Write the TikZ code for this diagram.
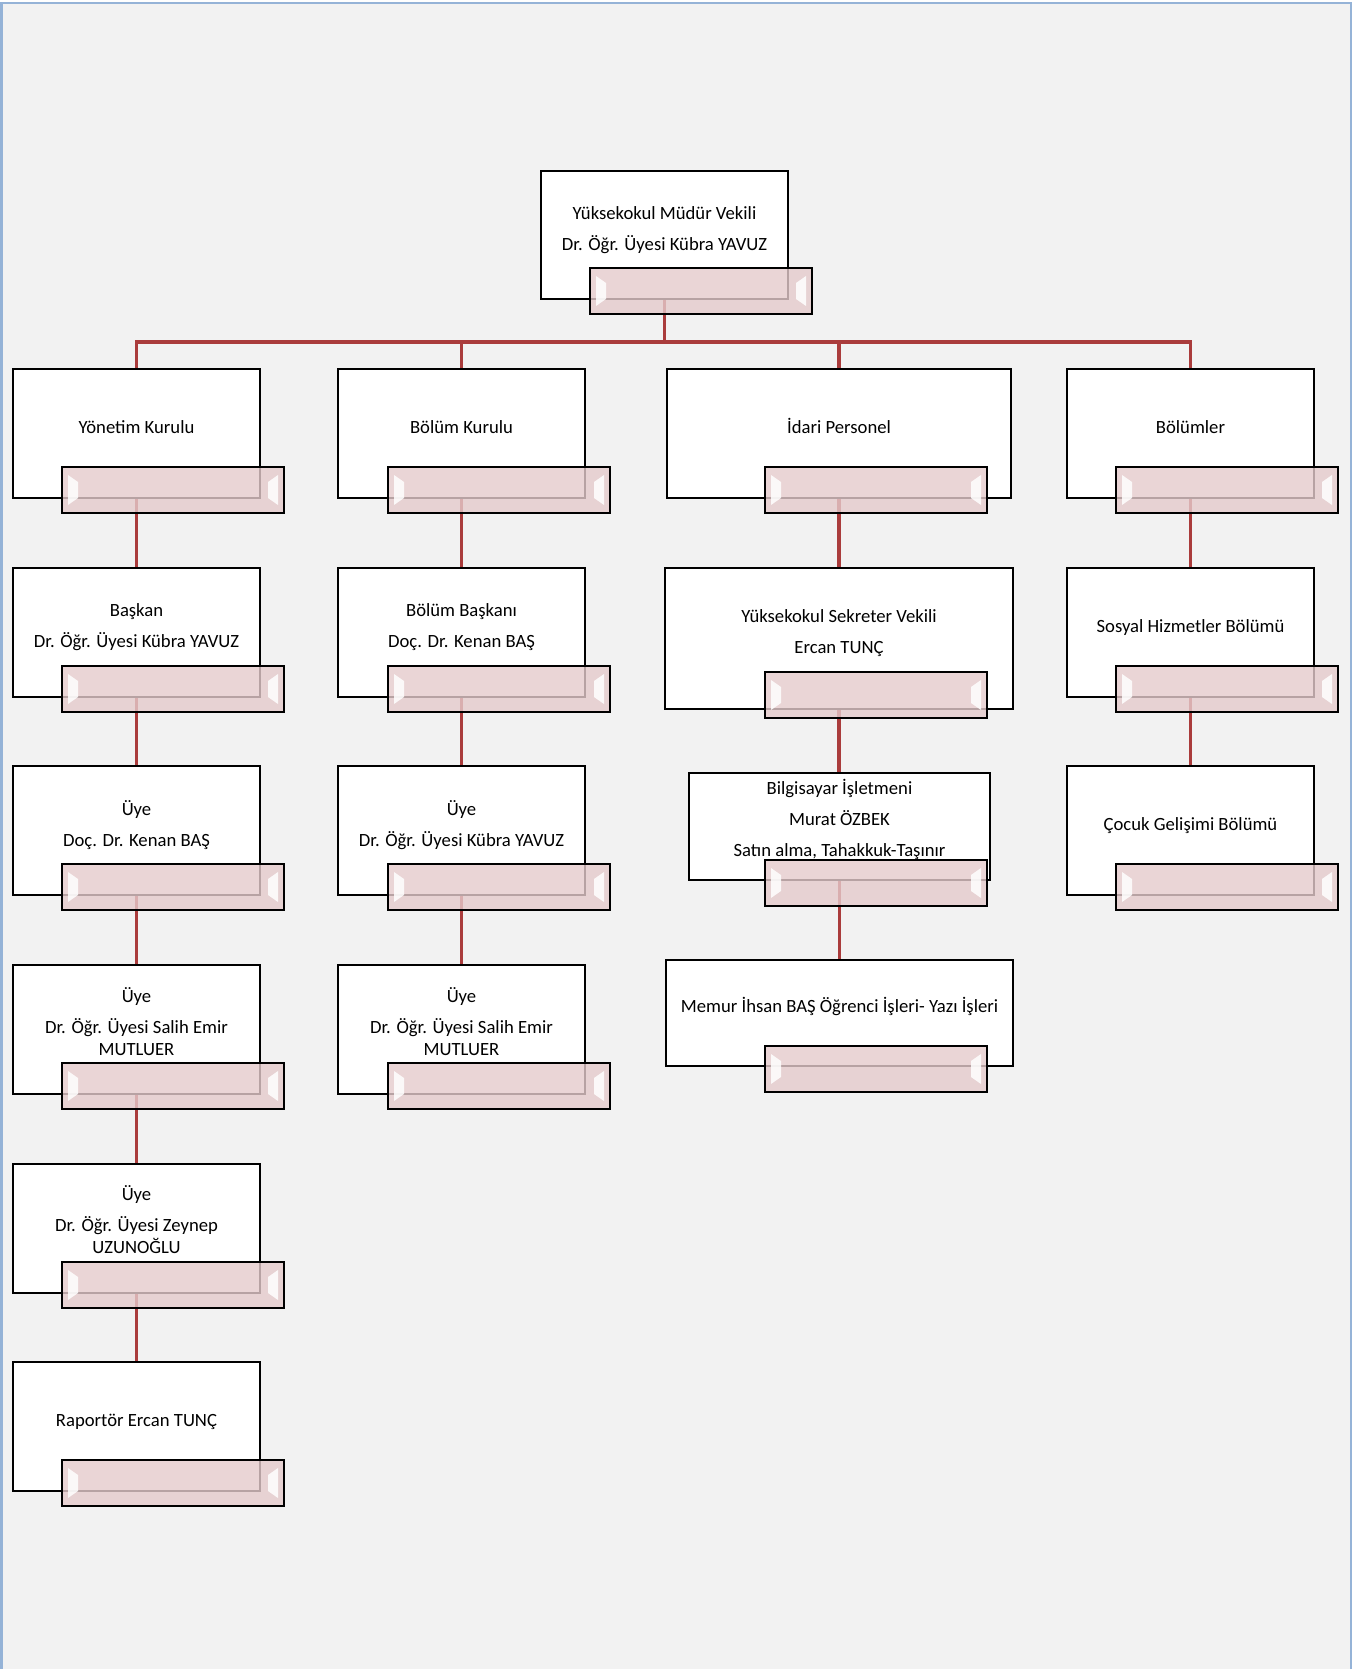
\documentclass[tikz,border=0pt]{standalone}
\usepackage{fontspec}
\setmainfont{Carlito}
\usetikzlibrary{calc}
\pgfdeclarelayer{bg}
\pgfsetlayers{bg,main}
\definecolor{bgray}{RGB}{242,242,242}
\definecolor{frameblue}{RGB}{149,179,215}
\definecolor{linered}{RGB}{170,60,60}
\definecolor{pinkfill}{RGB}{229,203,204}
\newcommand{\gp}{\\[6.75pt]}
\begin{document}
\begin{tikzpicture}[x=0.75pt,y=-0.75pt,
  orgbox/.style 2 args={draw=black, line width=1.2pt, fill=white, anchor=north west,
    inner sep=0pt, outer sep=0pt, minimum width=#1*0.75pt, minimum height=#2*0.75pt},
  pinkbar/.style={draw=black, line width=1.1pt, fill=pinkfill, fill opacity=0.8,
    anchor=north west, inner sep=0pt, outer sep=0pt,
    minimum width=166.5pt, minimum height=34.5pt,
    path picture={
      \fill[white, fill opacity=0.85] ($(path picture bounding box.north west)+(6,8)$)
        -- ++(10,7) -- ++(0,16) -- ++(-10,7) -- cycle;
      \fill[white, fill opacity=0.85] ($(path picture bounding box.north east)+(-6,8)$)
        -- ++(-10,7) -- ++(0,16) -- ++(10,7) -- cycle;
    }},
  txt/.style={font=\fontsize{14}{16.5}\selectfont, align=center, inner sep=0pt, yshift=-2.4pt},
  conn/.style={draw=linered, line width=2.4pt}
]
\useasboundingbox (0,0) rectangle (1362,1669);

% white boxes
\node[orgbox={247}{128}] (m) at (541,171) {};
\node[orgbox={247}{129}] (yk) at (13,369) {};
\node[orgbox={247}{129}] (bk) at (338,369) {};
\node[orgbox={344}{129}] (ip) at (667,369) {};
\node[orgbox={247}{129}] (bl) at (1067,369) {};
\node[orgbox={247}{129}] (bs) at (13,568) {};
\node[orgbox={247}{129}] (bb) at (338,568) {};
\node[orgbox={348}{141}] (sk) at (665,568) {};
\node[orgbox={247}{129}] (sh) at (1067,568) {};
\node[orgbox={247}{129}] (u1) at (13,766) {};
\node[orgbox={247}{129}] (u2) at (338,766) {};
\node[orgbox={301}{107}] (bi) at (689,773) {};
\node[orgbox={247}{129}] (cg) at (1067,766) {};
\node[orgbox={247}{129}] (u3) at (13,965) {};
\node[orgbox={247}{129}] (u4) at (338,965) {};
\node[orgbox={347}{106}] (me) at (666,960) {};
\node[orgbox={247}{129}] (u5) at (13,1164) {};
\node[orgbox={247}{129}] (ra) at (13,1362) {};

% pink bars
\node[pinkbar] (pm) at (590,268) {};
\node[pinkbar] (pyk) at (62,467) {};
\node[pinkbar] (pbk) at (388,467) {};
\node[pinkbar] (pip) at (765,467) {};
\node[pinkbar] (pbl) at (1116,467) {};
\node[pinkbar] (pbs) at (62,666) {};
\node[pinkbar] (pbb) at (388,666) {};
\node[pinkbar] (psk) at (765,672) {};
\node[pinkbar] (psh) at (1116,666) {};
\node[pinkbar] (pu1) at (62,864) {};
\node[pinkbar] (pu2) at (388,864) {};
\node[pinkbar] (pbi) at (765,860) {};
\node[pinkbar] (pcg) at (1116,864) {};
\node[pinkbar] (pu3) at (62,1063) {};
\node[pinkbar] (pu4) at (388,1063) {};
\node[pinkbar] (pme) at (765,1046) {};
\node[pinkbar] (pu5) at (62,1262) {};
\node[pinkbar] (pra) at (62,1460) {};

% texts
\node[txt] (tm) at (664.5,227) {\strut Yüksekokul Müdür Vekili\gp\strut Dr. Öğr. Üyesi Kübra YAVUZ};
\node[txt] (tyk) at (136.5,425.6) {\strut Yönetim Kurulu};
\node[txt] (tbk) at (461.5,425.6) {\strut Bölüm Kurulu};
\node[txt] (tip) at (839,425.6) {\strut İdari Personel};
\node[txt] (tbl) at (1190.5,425.6) {\strut Bölümler};
\node[txt] (tbs) at (136.5,624) {\strut Başkan\gp\strut Dr. Öğr. Üyesi Kübra YAVUZ};
\node[txt] (tbb) at (461.5,624) {\strut Bölüm Başkanı\gp\strut Doç. Dr. Kenan BAŞ};
\node[txt] (tsk) at (839,630.5) {\strut Yüksekokul Sekreter Vekili\gp\strut Ercan TUNÇ};
\node[txt] (tsh) at (1190.5,624.6) {\strut Sosyal Hizmetler Bölümü};
\node[txt] (tu1) at (136.5,823) {\strut Üye\gp\strut Doç. Dr. Kenan BAŞ};
\node[txt] (tu2) at (461.5,823) {\strut Üye\gp\strut Dr. Öğr. Üyesi Kübra YAVUZ};
\node[txt] (tbi) at (839.5,817.7) {\strut Bilgisayar İşletmeni\gp\strut Murat ÖZBEK\gp\strut Satın alma, Tahakkuk-Taşınır};
\node[txt] (tcg) at (1190.5,822.5) {\strut Çocuk Gelişimi Bölümü};
\node[txt] (tu3) at (136.5,1021.5) {\strut Üye\gp\strut Dr. Öğr. Üyesi Salih Emir\\\strut MUTLUER};
\node[txt] (tu4) at (461.5,1021.5) {\strut Üye\gp\strut Dr. Öğr. Üyesi Salih Emir\\\strut MUTLUER};
\node[txt] (tme) at (839.5,1005) {\strut Memur İhsan BAŞ Öğrenci İşleri- Yazı İşleri};
\node[txt] (tu5) at (136.5,1219.5) {\strut Üye\gp\strut Dr. Öğr. Üyesi Zeynep\\\strut UZUNOĞLU};
\node[txt] (tra) at (136.5,1419) {\strut Raportör Ercan TUNÇ};

\coordinate (bus) at (664.5,342);

\begin{pgfonlayer}{bg}
  \fill[white] (0,0) rectangle (1362,1669);
  \fill[bgray] (2,4) rectangle (1351,1669);
  \draw[frameblue, line width=1.5pt] (1.5,1669) -- (1.5,3) -- (1351,3) -- (1351,1669);
  % tree from top
  \draw[conn] (m.south) -- (bus) -| (yk.north);
  \draw[conn] (bus) -| (bk.north);
  \draw[conn] (bus) -| (ip.north);
  \draw[conn] (bus) -| (bl.north);
  % column 1
  \draw[conn] (yk.south) -- (bs.north);
  \draw[conn] (bs.south) -- (u1.north);
  \draw[conn] (u1.south) -- (u3.north);
  \draw[conn] (u3.south) -- (u5.north);
  \draw[conn] (u5.south) -- (ra.north);
  % column 2
  \draw[conn] (bk.south) -- (bb.north);
  \draw[conn] (bb.south) -- (u2.north);
  \draw[conn] (u2.south) -- (u4.north);
  % column 3
  \draw[conn] (ip.south) -- (sk.north);
  \draw[conn] (sk.south) -- (sk.south |- bi.north);
  \draw[conn] (bi.south) -- (bi.south |- me.north);
  % column 4
  \draw[conn] (bl.south) -- (sh.north);
  \draw[conn] (sh.south) -- (cg.north);
\end{pgfonlayer}
\end{tikzpicture}
\end{document}
